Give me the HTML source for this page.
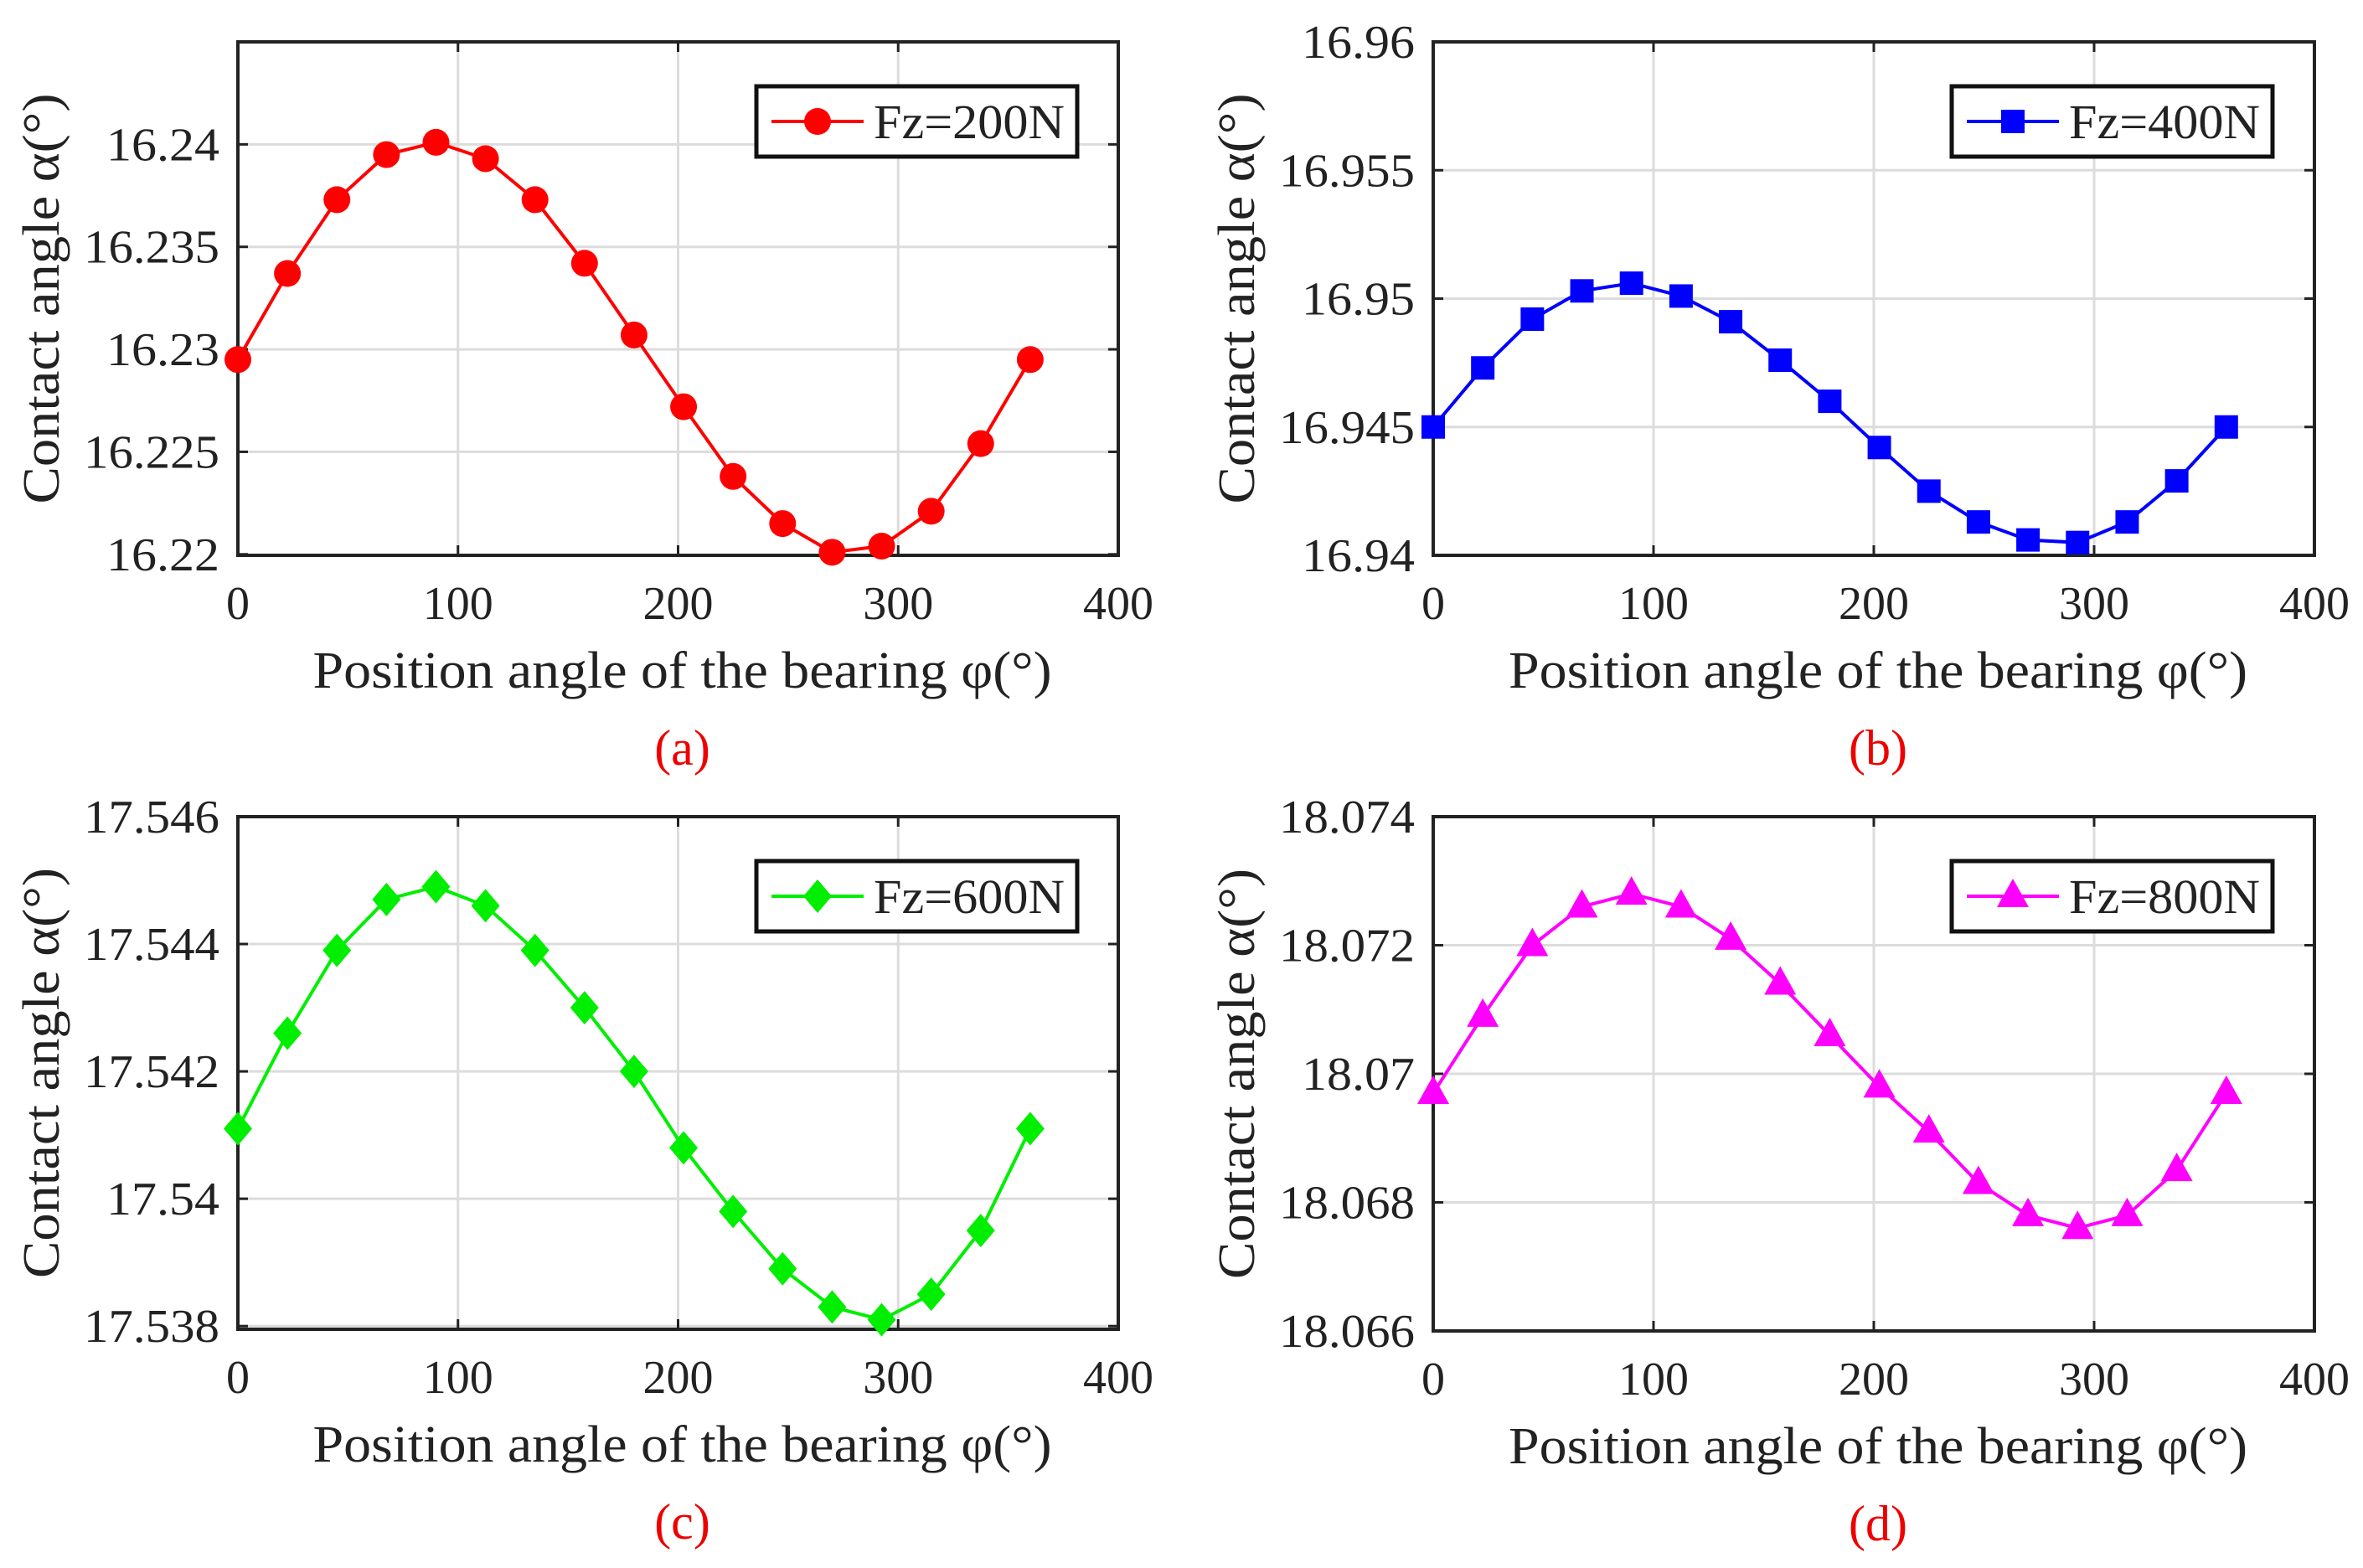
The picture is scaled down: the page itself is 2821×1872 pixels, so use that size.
<!DOCTYPE html>
<html><head><meta charset="utf-8"><style>html,body{margin:0;padding:0;background:#fff}svg{display:block}</style></head>
<body>
<svg id="fig" width="2821" height="1872" viewBox="0 0 2821 1872" xmlns="http://www.w3.org/2000/svg" font-family="'Liberation Serif', serif"></svg>
<script>
const angles = [0,22.5,45,67.5,90,112.5,135,157.5,180,202.5,225,247.5,270,292.5,315,337.5,360];
const seriesA = [16.2295,16.2337,16.2373,16.2395,16.2401,16.2393,16.2373,16.2342,16.2307,16.2272,16.2238,16.2215,16.2201,16.2204,16.2221,16.2254,16.2295];
const seriesB = [16.9450,16.9473,16.9492,16.9503,16.9506,16.9501,16.9491,16.9476,16.9460,16.9442,16.9425,16.9413,16.9406,16.9405,16.9413,16.9429,16.9450];
const seriesC = [17.5411,17.5426,17.5439,17.5447,17.5449,17.5446,17.5439,17.5430,17.5420,17.5408,17.5398,17.5389,17.5383,17.5381,17.5385,17.5395,17.5411];
const seriesD = [18.0697,18.0709,18.0720,18.0726,18.0728,18.0726,18.0721,18.0714,18.0706,18.0698,18.0691,18.0683,18.0678,18.0676,18.0678,18.0685,18.0697];
const xTicks = [0,100,200,300,400];
const xTickLabels = ["0","100","200","300","400"];
const yTicksA = [16.22,16.225,16.23,16.235,16.24];
const yTickLabelsA = ["16.22","16.225","16.23","16.235","16.24"];
const yTicksB = [16.94,16.945,16.95,16.955,16.96];
const yTickLabelsB = ["16.94","16.945","16.95","16.955","16.96"];
const yTicksC = [17.538,17.54,17.542,17.544,17.546];
const yTickLabelsC = ["17.538","17.54","17.542","17.544","17.546"];
const yTicksD = [18.066,18.068,18.07,18.072,18.074];
const yTickLabelsD = ["18.066","18.068","18.07","18.072","18.074"];
const legendLabels = ["Fz=200N","Fz=400N","Fz=600N","Fz=800N"];
const captions = ["(a)","(b)","(c)","(d)"];

const NS = "http://www.w3.org/2000/svg";
const svg = document.getElementById('fig');
function mk(tag, attrs, parent){const e=document.createElementNS(NS,tag);for(const k in attrs)e.setAttribute(k,attrs[k]);(parent||svg).appendChild(e);return e;}

const panels = [
 {L:284,R:1335,T:50,B:663,ymin:16.21995,ymax:16.245,data:seriesA,yt:yTicksA,yl:yTickLabelsA,color:"#ff0000",marker:"circle",lx:903,name:"a"},
 {L:1711,R:2763,T:50,B:663,ymin:16.94,ymax:16.96,data:seriesB,yt:yTicksB,yl:yTickLabelsB,color:"#0000ff",marker:"square",lx:2330,name:"b"},
 {L:284,R:1335,T:975,B:1587,ymin:17.53795,ymax:17.546,data:seriesC,yt:yTicksC,yl:yTickLabelsC,color:"#00ee00",marker:"diamond",lx:903,name:"c"},
 {L:1711,R:2763,T:975,B:1589,ymin:18.066,ymax:18.074,data:seriesD,yt:yTicksD,yl:yTickLabelsD,color:"#ff00ff",marker:"triangle",lx:2330,name:"d"}
];

function drawMarker(g,type,cx,cy,color){
  let e;
  if(type==="circle") e=mk('circle',{cx:cx,cy:cy,r:16,fill:color},g);
  else if(type==="square") e=mk('rect',{x:cx-14,y:cy-14,width:28,height:28,fill:color},g);
  else if(type==="diamond") e=mk('polygon',{points:`${cx},${cy-20} ${cx+17},${cy} ${cx},${cy+20} ${cx-17},${cy}`,fill:color},g);
  else e=mk('polygon',{points:`${cx},${cy-21} ${cx+19},${cy+13} ${cx-19},${cy+13}`,fill:color},g);
  
  
}

panels.forEach((p,i)=>{
  const g = mk('g',{});
  
  
  const xs = v => p.L + (v-0)/(400-0)*(p.R-p.L);
  const ys = v => p.B - (v-p.ymin)/(p.ymax-p.ymin)*(p.B-p.T);
  xTicks.forEach(t=>{ if(t>0&&t<400){const l=mk('line',{x1:xs(t),x2:xs(t),y1:p.T,y2:p.B,stroke:"#dcdcdc","stroke-width":3},g);
    }});
  p.yt.forEach(t=>{const y=ys(t); if(y>p.T+2&&y<p.B-2){const l=mk('line',{x1:p.L,x2:p.R,y1:y,y2:y,stroke:"#dcdcdc","stroke-width":3},g);
    }});
  xTicks.forEach((t,k)=>{
    mk('line',{x1:xs(t),x2:xs(t),y1:p.B,y2:p.B-12,stroke:"#222","stroke-width":3},g);
    mk('line',{x1:xs(t),x2:xs(t),y1:p.T,y2:p.T+12,stroke:"#222","stroke-width":3},g);
    const tx=mk('text',{x:xs(t),y:p.B+76,"font-size":56,"text-anchor":"middle",fill:"#222"},g);
    tx.textContent=xTickLabels[k];
    
  });
  p.yt.forEach((t,k)=>{
    const y=ys(t);
    mk('line',{x1:p.L,x2:p.L+12,y1:y,y2:y,stroke:"#222","stroke-width":3},g);
    mk('line',{x1:p.R,x2:p.R-12,y1:y,y2:y,stroke:"#222","stroke-width":3},g);
    const lab=p.yl[k];
    const tx=mk('text',{x:p.L-22,y:y+19,"font-size":56,"text-anchor":"end",fill:"#222",textLength:lab.length*27,lengthAdjust:"spacingAndGlyphs"},g);
    tx.textContent=lab;
    
  });
  const box=mk('rect',{x:p.L,y:p.T,width:p.R-p.L,height:p.B-p.T,fill:"none",stroke:"#222","stroke-width":4},g);
  
  const pts=angles.map((a,k)=>xs(a)+","+ys(p.data[k])).join(" ");
  const line=mk('polyline',{points:pts,fill:"none",stroke:p.color,"stroke-width":4},g);
  
  angles.forEach((a,k)=>drawMarker(g,p.marker,xs(a),ys(p.data[k]),p.color));
  const ly=p.T+53;
  const lg=mk('g',{},g);
  
  mk('rect',{x:p.lx,y:ly,width:383,height:84,fill:"#fff",stroke:"#111","stroke-width":5},lg);
  mk('line',{x1:p.lx+18,x2:p.lx+128,y1:ly+42,y2:ly+42,stroke:p.color,"stroke-width":4},lg);
  drawMarker(lg,p.marker,p.lx+73,ly+42,p.color);
  const lt=mk('text',{x:p.lx+140,y:ly+62,"font-size":58,fill:"#222",textLength:228,lengthAdjust:"spacingAndGlyphs"},lg);
  lt.textContent=legendLabels[i];
  
  const cx=(p.L+p.R)/2+5;
  const xl=mk('text',{x:cx,y:p.B+158,"font-size":62,"text-anchor":"middle",fill:"#222",textLength:882,lengthAdjust:"spacingAndGlyphs"},g);
  xl.textContent="Position angle of the bearing φ(°)";
  
  const yx=p.L-214, yc=(p.T+p.B)/2;
  const yl=mk('text',{x:0,y:0,"font-size":62,"text-anchor":"middle",fill:"#222",transform:`translate(${yx},${yc}) rotate(-90)`,textLength:490,lengthAdjust:"spacingAndGlyphs"},g);
  yl.textContent="Contact angle α(°)";
  
  const cap=mk('text',{x:cx,y:p.B+250,"font-size":60,"text-anchor":"middle",fill:"#ee0000"},g);
  cap.textContent=captions[i];
  
});
</script>
</body></html>
